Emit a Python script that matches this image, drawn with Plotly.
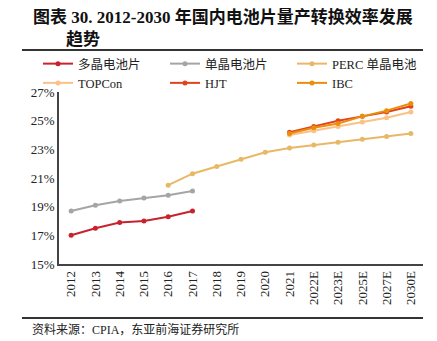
import plotly.graph_objects as go

years = ["2012", "2013", "2014", "2015", "2016", "2017", "2018", "2019", "2020",
         "2021", "2022E", "2023E", "2025E", "2027E", "2030E"]

multi_x = ["2012", "2013", "2014", "2015", "2016", "2017"]
multi_y = [17.0, 17.5, 17.9, 18.0, 18.3, 18.7]

mono_x = ["2012", "2013", "2014", "2015", "2016", "2017"]
mono_y = [18.7, 19.1, 19.4, 19.6, 19.8, 20.1]

perc_x = ["2016", "2017", "2018", "2019", "2020", "2021", "2022E", "2023E", "2025E", "2027E", "2030E"]
perc_y = [20.5, 21.3, 21.8, 22.3, 22.8, 23.1, 23.3, 23.5, 23.7, 23.9, 24.1]

new_x = ["2021", "2022E", "2023E", "2025E", "2027E", "2030E"]
topcon_y = [24.0, 24.3, 24.6, 24.9, 25.2, 25.6]
hjt_y = [24.2, 24.6, 25.0, 25.3, 25.6, 26.0]
ibc_y = [24.1, 24.5, 24.8, 25.3, 25.7, 26.2]

y_ticks = [15, 17, 19, 21, 23, 25, 27]
y_tick_labels = ["15%", "17%", "19%", "21%", "23%", "25%", "27%"]

series = [
    ("多晶电池片", multi_x, multi_y, "#C8232C"),
    ("单晶电池片", mono_x, mono_y, "#A5A5A5"),
    ("PERC 单晶电池", perc_x, perc_y, "#E9B867"),
    ("TOPCon", new_x, topcon_y, "#FBC188"),
    ("HJT", new_x, hjt_y, "#E2431E"),
    ("IBC", new_x, ibc_y, "#E98F0C"),
]

SERIF = "Liberation Serif, Times New Roman, Noto Sans CJK SC, serif"

fig = go.Figure()
for name, xs, ys, col in series:
    fig.add_trace(go.Scatter(
        x=xs, y=ys, name=name, mode="lines+markers",
        line=dict(color=col, width=2),
        marker=dict(color=col, size=5),
    ))

L, R, T, B = 59, 14, 92, 77
W, H = 437, 341
pw = W - L - R
ph = H - T - B

def px2x(px):
    return (px - L) / pw

def py2y(py):
    return (H - B - py) / ph

fig.update_layout(
    width=W, height=H,
    margin=dict(l=L, r=R, t=T, b=B, pad=0),
    paper_bgcolor="white", plot_bgcolor="white",
    font=dict(family=SERIF, size=13, color="#222222"),
    showlegend=True,
    legend=dict(
        orientation="h",
        x=px2x(38), y=py2y(49), xanchor="left", yanchor="top",
        entrywidth=82, entrywidthmode="pixels",
        font=dict(family=SERIF, size=12.5, color="#222222"),
        itemwidth=30, tracegroupgap=0,
        bgcolor="rgba(0,0,0,0)",
    ),
    xaxis=dict(
        type="category", categoryorder="array", categoryarray=years,
        range=[-0.5, len(years) - 0.5],
        showline=True, linecolor="#444444", linewidth=1.5,
        showgrid=False, ticks="", tickangle=-90,
        tickfont=dict(family=SERIF, size=13, color="#222222"),
        zeroline=False,
    ),
    yaxis=dict(
        range=[15, 27], tickmode="array", tickvals=y_ticks, ticktext=y_tick_labels,
        showline=True, linecolor="#444444", linewidth=1.5,
        showgrid=False, ticks="", zeroline=False,
        tickfont=dict(family=SERIF, size=13, color="#222222"),
    ),
)

TITLE_FONT = dict(family="Liberation Serif, Noto Sans CJK SC, serif", size=17, color="#111111")
fig.add_annotation(
    text="<b>图表 30. 2012-2030 年国内电池片量产转换效率发展</b>",
    xref="paper", yref="paper", x=px2x(31), y=py2y(17),
    xanchor="left", yanchor="middle", showarrow=False, font=TITLE_FONT,
)
fig.add_annotation(
    text="<b>趋势</b>",
    xref="paper", yref="paper", x=px2x(64), y=py2y(40),
    xanchor="left", yanchor="middle", showarrow=False, font=TITLE_FONT,
)
fig.add_shape(type="line", xref="paper", yref="paper",
              x0=px2x(22), x1=px2x(423), y0=py2y(50), y1=py2y(50),
              line=dict(color="#333333", width=2))
fig.add_shape(type="line", xref="paper", yref="paper",
              x0=px2x(22), x1=px2x(423), y0=py2y(318), y1=py2y(318),
              line=dict(color="#333333", width=2))
fig.add_annotation(
    text="资料来源：CPIA，东亚前海证券研究所",
    xref="paper", yref="paper", x=px2x(30), y=py2y(329),
    xanchor="left", yanchor="middle", showarrow=False,
    font=dict(family=SERIF, size=12, color="#222222"),
)

fig.write_html("out.html")
